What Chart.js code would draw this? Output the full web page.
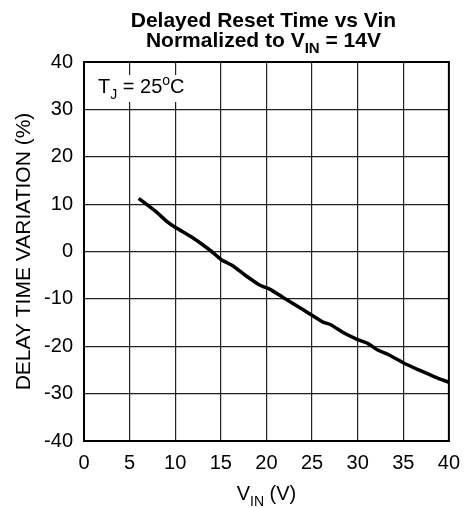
<!DOCTYPE html>
<html>
<head>
<meta charset="utf-8">
<script src="https://cdn.jsdelivr.net/npm/chart.js@4/dist/chart.umd.min.js"></script>
<style>
  body { margin: 0; background: #fff; }
</style>
</head>
<body>
<canvas id="delayChart" width="470" height="508"></canvas>
<script>
    // 読み取り値: VIN (V) と遅延時間の変化率 (%)
    const vin       = [6, 7.9, 9.1, 10, 12, 14, 15.1, 16.3, 17.6, 19.2, 20.5, 21.9, 22.5, 25.2, 26.2, 27.1, 28.4, 30, 31.1, 32.2, 33.4, 35.1, 36.7, 38.5, 40];
    const variation = [11.2, 8.4, 6.3, 5.1, 2.8, 0, -1.8, -3.0, -4.9, -7.0, -8.1, -9.8, -10.5, -13.7, -14.9, -15.5, -17.1, -18.6, -19.4, -20.8, -21.8, -23.6, -25.0, -26.5, -27.6];
    const xTicks = [0, 5, 10, 15, 20, 25, 30, 35, 40];
    const yTicks = [-40, -30, -20, -10, 0, 10, 20, 30, 40];

    const FAMILY = '"Liberation Sans", Arial, sans-serif';

    // 下付き・上付きを含むテキストを描く
    function drawRich(ctx, parts, x, y, size, weight, align) {
        const fontFor = m => `${weight} ${m ? Math.round(size * 0.7) : size}px ${FAMILY}`;
        let w = 0;
        parts.forEach(([t, m]) => { ctx.font = fontFor(m); w += ctx.measureText(t).width; });
        let cx = align === 'center' ? x - w / 2 : x;
        ctx.textAlign = 'left';
        ctx.textBaseline = 'alphabetic';
        ctx.fillStyle = '#000';
        parts.forEach(([t, m]) => {
            ctx.font = fontFor(m);
            const dy = m === 'sub' ? size * 0.3 : (m === 'sup' ? -size * 0.4 : 0);
            ctx.fillText(t, cx, y + dy);
            cx += ctx.measureText(t).width;
        });
    }

    const textPlugin = {
        id: 'richText',
        beforeDatasetsDraw(chart) {
            const ctx = chart.ctx;
            ctx.save();
            // 注記の背景 (グリッドを隠す)
            ctx.fillStyle = '#fff';
            ctx.fillRect(chart.chartArea.left + 8, 75, 98, 27);
            drawRich(ctx, [['T', ''], ['J', 'sub'], [' = 25', ''], ['o', 'sup'], ['C', '']], 98, 93, 20, 'normal', 'left');
            ctx.restore();
        },
        afterDraw(chart) {
            const ctx = chart.ctx;
            const a = chart.chartArea;
            ctx.save();
            ctx.strokeStyle = '#000';
            ctx.lineWidth = 2;
            ctx.strokeRect(a.left, a.top, a.right - a.left, a.bottom - a.top);
            const cx = (a.left + a.right) / 2;
            drawRich(ctx, [['Delayed Reset Time vs Vin', '']], cx - 3, 27, 21, 'bold', 'center');
            drawRich(ctx, [['Normalized to V', ''], ['IN', 'sub'], [' = 14V', '']], cx - 3, 47, 21, 'bold', 'center');
            drawRich(ctx, [['V', ''], ['IN', 'sub'], [' (V)', '']], cx, 500, 20, 'normal', 'center');
            ctx.restore();
        }
    };

    const ctx = document.getElementById('delayChart').getContext('2d');
    new Chart(ctx, {
        type: 'line',
        data: {
            datasets: [{
                data: vin.map((v, i) => ({ x: v, y: variation[i] })),
                borderColor: '#000',
                borderWidth: 3.5,
                pointRadius: 0,
                tension: 0.2,
                fill: false
            }]
        },
        options: {
            responsive: false,
            animation: false,
            layout: { padding: { top: 62, right: 16, left: 0, bottom: 0 } },
            plugins: { legend: { display: false }, tooltip: { enabled: false } },
            scales: {
                x: {
                    type: 'linear',
                    min: 0, max: 40,
                    afterBuildTicks: s => { s.ticks = xTicks.map(v => ({ value: v })); },
                    afterFit: s => { s.height = 67; },
                    grid: { color: '#222', lineWidth: 1.2, drawTicks: false },
                    border: { color: '#000', width: 2 },
                    ticks: { color: '#000', padding: 10, font: { family: FAMILY, size: 20 } }
                },
                y: {
                    min: -40, max: 40,
                    afterBuildTicks: s => { s.ticks = yTicks.map(v => ({ value: v })); },
                    afterFit: s => { s.width = 84; },
                    grid: { color: '#222', lineWidth: 1.2, drawTicks: false },
                    border: { color: '#000', width: 2 },
                    ticks: { color: '#000', padding: 11, font: { family: FAMILY, size: 20 } },
                    title: {
                        display: true,
                        text: 'DELAY TIME VARIATION (%)',
                        color: '#000',
                        padding: { top: 12, bottom: 0 },
                        font: { family: FAMILY, size: 21 }
                    }
                }
            }
        },
        plugins: [textPlugin]
    });
</script>
</body>
</html>
